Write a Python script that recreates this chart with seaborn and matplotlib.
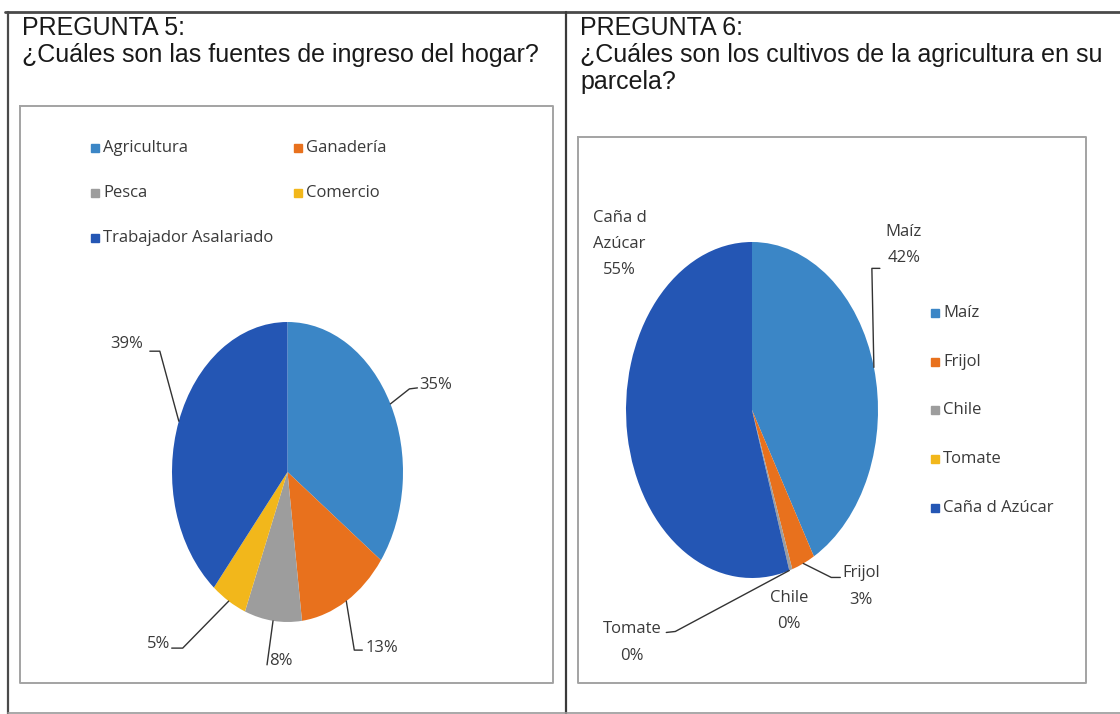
"""
Two survey pie charts (Pregunta 5 and Pregunta 6) side by side.
"""

import numpy as np
import matplotlib
matplotlib.use("Agg")
import matplotlib.pyplot as plt
from matplotlib.lines import Line2D
from matplotlib.patches import Rectangle
import seaborn as sns

sns.set_theme(style="white")

# --------------------------------
# data

ingreso_labels = ["Agricultura", "Ganadería", "Pesca", "Comercio", "Trabajador Asalariado"]
ingreso_values = [35, 13, 8, 5, 39]

cultivo_labels = ["Maíz", "Frijol", "Chile", "Tomate", "Caña d Azúcar"]
cultivo_values = [42, 3, 0.4, 0, 55]
cultivo_names = ["Maíz", "Frijol", "Chile", "Tomate", "Caña d\nAzúcar"]

colores = sns.color_palette(["#3b86c6", "#e8711d", "#9d9d9d", "#f2b71b", "#2456b4"])

# --------------------------------

W, H = 1120, 714
TEXT = "#3a3a3a"
LABEL_FONT = ["Open Sans", "DejaVu Sans"]
TITLE_FONT = ["Liberation Sans", "DejaVu Sans"]

fig = plt.figure(figsize=(W / 100, H / 100), dpi=100)
fig.patch.set_facecolor("white")


def fx(x):
    return x / W


def fy(y):
    return 1 - y / H


def line(xs, ys, color, lw):
    fig.add_artist(Line2D([fx(x) for x in xs], [fy(y) for y in ys],
                          color=color, lw=lw, transform=fig.transFigure))


# page frame
line([5, 1120], [12, 12], "#4a4a4a", 2.0)
line([8, 8], [12, 714], "#4a4a4a", 1.6)
line([566, 566], [12, 714], "#3a3a3a", 1.6)
line([8, 1120], [712.5, 712.5], "#9a9a9a", 1.2)

# chart boxes
for x0, y0, x1, y1 in [(20, 106, 553, 683), (578, 137, 1086, 683)]:
    line([x0, x1, x1, x0, x0], [y0, y0, y1, y1, y0], "#a3a3a3", 1.4)

# titles
title_kw = dict(fontsize=18, color="#1a1a1a", family=TITLE_FONT, va="baseline")
fig.text(fx(22), fy(35), "PREGUNTA 5:", **title_kw)
fig.text(fx(22), fy(62), "¿Cuáles son las fuentes de ingreso del hogar?", **title_kw)
fig.text(fx(580), fy(35), "PREGUNTA 6:", **title_kw)
fig.text(fx(580), fy(62), "¿Cuáles son los cultivos de la agricultura en su", **title_kw)
fig.text(fx(580), fy(89), "parcela?", **title_kw)


def draw_pie(box, values):
    x0, y0, x1, y1 = box
    ax = fig.add_axes([fx(x0), fy(y1), (x1 - x0) / W, (y1 - y0) / H])
    wedges, _ = ax.pie(values, colors=colores, startangle=90, counterclock=False,
                       radius=1, wedgeprops=dict(linewidth=0))
    ax.set_aspect("auto")
    ax.set_xlim(-1, 1)
    ax.set_ylim(-1, 1)
    ax.axis("off")

    # edge point of each wedge, in image pixels (y down)
    points = []
    for w in wedges:
        mid = np.deg2rad((w.theta1 + w.theta2) / 2)
        px, py = ax.transData.transform((np.cos(mid), np.sin(mid)))
        points.append((px, H - py))
    return points


def draw_labels(points, texts, layout):
    for (px, py), text, spec in zip(points, texts, layout):
        leader, (tx, ty), ha = spec
        if leader:
            xs = [px] + [px + dx for dx, _ in leader]
            ys = [py] + [py + dy for _, dy in leader]
            line(xs, ys, "#333333", 1.0)
        fig.text(fx(px + tx), fy(py + ty), text, ha=ha, va="center",
                 fontsize=12, color=TEXT, family=LABEL_FONT,
                 linespacing=1.85, multialignment="center")


def draw_legend(labels, positions):
    for (x, y), name, c in zip(positions, labels, colores):
        fig.add_artist(Rectangle((fx(x - 4), fy(y + 4)), 8 / W, 8 / H,
                                 color=c, transform=fig.transFigure))
        fig.text(fx(x + 8), fy(y), name, ha="left", va="center",
                 fontsize=12, color=TEXT, family=LABEL_FONT)


# --------------------------------
# Pregunta 5

pts1 = draw_pie((172, 322, 403, 622), ingreso_values)
pct1 = [f"{round(v)}%" for v in ingreso_values]
layout1 = [
    ([(19, -15), (27, -16)], (29, -19), "left"),
    ([(8, 49), (16, 49)], (19, 47), "left"),
    ([(-6, 44)], (-4, 40), "left"),
    ([(-46, 47), (-57, 47)], (-58, 43), "right"),
    ([(-19, -70), (-29, -70)], (-36, -77), "right"),
]
draw_labels(pts1, pct1, layout1)
draw_legend(ingreso_labels, [(95, 148), (298, 148), (95, 193), (298, 193), (95, 238)])

# --------------------------------
# Pregunta 6

pts2 = draw_pie((626, 242, 878, 578), cultivo_values)
txt2 = [f"{n}\n{round(v)}%" for n, v in zip(cultivo_names, cultivo_values)]
layout2 = [
    ([(-2, -99), (6, -99)], (30, -122), "center"),
    ([(28, 14), (37, 14)], (58, 23), "center"),
    (None, (-2, 41), "center"),
    ([(-114, 61), (-123, 62)], (-157, 72), "center"),
    (None, (-8, -191), "center"),
]
draw_labels(pts2, txt2, layout2)
draw_legend(cultivo_labels, [(935, 313), (935, 362), (935, 410), (935, 459), (935, 508)])

fig.savefig("out.png", dpi=100, facecolor="white")
plt.close(fig)
